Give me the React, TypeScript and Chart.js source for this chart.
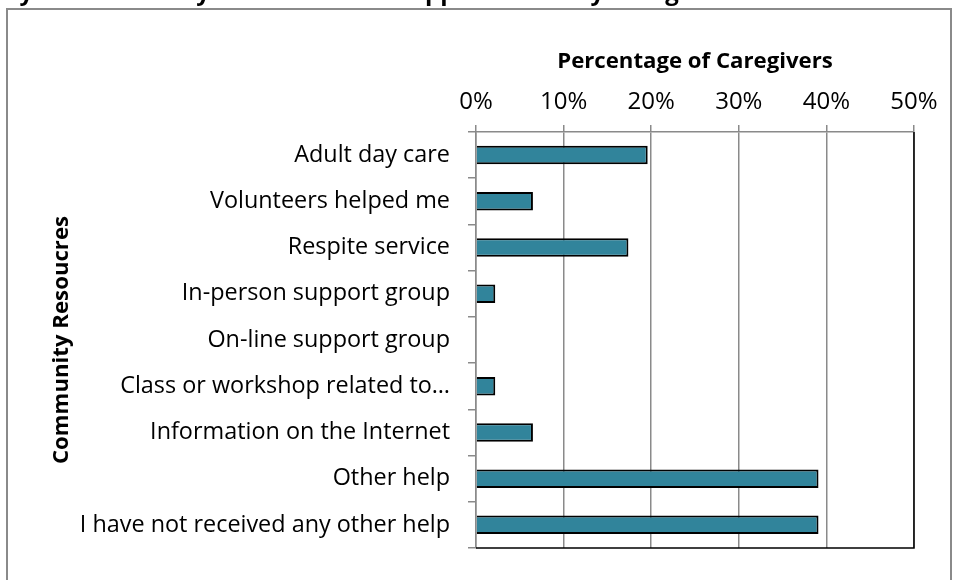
import React, { useEffect, useRef } from "react";
import { Chart, registerables } from "chart.js";

Chart.register(...registerables);

const categories = [
  "Adult day care",
  "Volunteers helped me",
  "Respite service",
  "In-person support group",
  "On-line support group",
  "Class or workshop related to…",
  "Information on the Internet",
  "Other help",
  "I have not received any other help",
];
const percentages = [19.6, 6.5, 17.4, 2.2, 0, 2.2, 6.5, 39.1, 39.1];
const xTickValues = [0, 10, 20, 30, 40, 50];
const xAxisTitle = "Percentage of Caregivers";
const yAxisTitle = "Community Resoucres";
const chartTitle =
  "Figure 9: Frequency of Community Resources and Supports Used by Caregivers in the Last Year";

const FONT = "'Open Sans', Lato, sans-serif";

const plotBorder = {
  id: "plotBorder",
  afterDraw(chart: any) {
    const { ctx, chartArea } = chart;
    const { left, right, top, bottom } = chartArea;
    ctx.save();
    ctx.strokeStyle = "#000000";
    ctx.lineWidth = 1.5;
    ctx.beginPath();
    ctx.moveTo(right, top);
    ctx.lineTo(right, bottom);
    ctx.lineTo(left, bottom);
    ctx.stroke();
    ctx.restore();
  },
};

export default function App() {
  const canvasRef = useRef<HTMLCanvasElement | null>(null);

  useEffect(() => {
    if (!canvasRef.current) return;
    const chart = new Chart(canvasRef.current, {
      type: "bar",
      data: {
        labels: categories,
        datasets: [
          {
            data: percentages,
            backgroundColor: "#31849B",
            borderColor: "#000000",
            borderWidth: 2,
            barPercentage: 0.8,
            categoryPercentage: 0.5,
          },
        ],
      },
      options: {
        indexAxis: "y",
        responsive: false,
        animation: false,
        maintainAspectRatio: false,
        layout: { padding: { left: 0, right: 40, top: 0, bottom: 25 } },
        plugins: {
          legend: { display: false },
          tooltip: { enabled: false },
        },
        scales: {
          x: {
            position: "top",
            min: 0,
            max: 50,
            afterBuildTicks: (scale: any) => {
              scale.ticks = xTickValues.map((v) => ({ value: v }));
            },
            afterFit: (scale: any) => {
              scale.height = 132;
            },
            ticks: {
              callback: (v: any) => `${v}%`,
              color: "#000000",
              font: { family: FONT, size: 24 },
              padding: 8,
            },
            grid: {
              color: "#8a8a8a",
              lineWidth: 1.5,
              tickLength: 7,
              drawTicks: true,
            },
            border: { color: "#8a8a8a", width: 1.5 },
            title: {
              display: true,
              text: xAxisTitle,
              color: "#000000",
              font: { family: FONT, size: 22.2, weight: "bold" },
              padding: { top: 48, bottom: 0 },
            },
          },
          y: {
            afterFit: (scale: any) => {
              scale.width = 476;
            },
            ticks: {
              color: "#000000",
              font: { family: FONT, size: 23.4 },
              padding: 18,
              autoSkip: false,
            },
            grid: {
              drawOnChartArea: false,
              drawTicks: true,
              tickLength: 8,
              color: "#8a8a8a",
              lineWidth: 1.5,
              offset: true,
            },
            border: { color: "#8a8a8a", width: 1.5 },
            title: {
              display: true,
              text: yAxisTitle,
              color: "#000000",
              font: { family: FONT, size: 22.2, weight: "bold" },
              padding: { top: 48, bottom: 0 },
            },
          },
        },
      },
      plugins: [plotBorder],
    });
    return () => chart.destroy();
  }, []);

  return (
    <div
      style={{
        position: "absolute",
        left: 0,
        top: 0,
        width: 954,
        height: 580,
        overflow: "hidden",
        background: "#ffffff",
      }}
    >
      <div
        style={{
          position: "absolute",
          left: 6,
          top: 8,
          width: 942,
          height: 580,
          borderTop: "2px solid #8a8a8a",
          borderLeft: "2px solid #8a8a8a",
          borderRight: "2px solid #8a8a8a",
          boxSizing: "content-box",
        }}
      />
      <canvas
        ref={canvasRef}
        width={954}
        height={580}
        style={{ position: "absolute", left: 0, top: 0, width: 954, height: 580 }}
      />
      <div
        style={{
          position: "absolute",
          left: 0,
          top: 0,
          width: 954,
          height: 8,
          overflow: "hidden",
        }}
      >
        <span
          style={{
            position: "absolute",
            left: -200,
            top: -26,
            whiteSpace: "nowrap",
            fontFamily: FONT,
            fontWeight: "bold",
            fontSize: 24,
            color: "#000000",
          }}
        >
          {chartTitle}
        </span>
      </div>
    </div>
  );
}
